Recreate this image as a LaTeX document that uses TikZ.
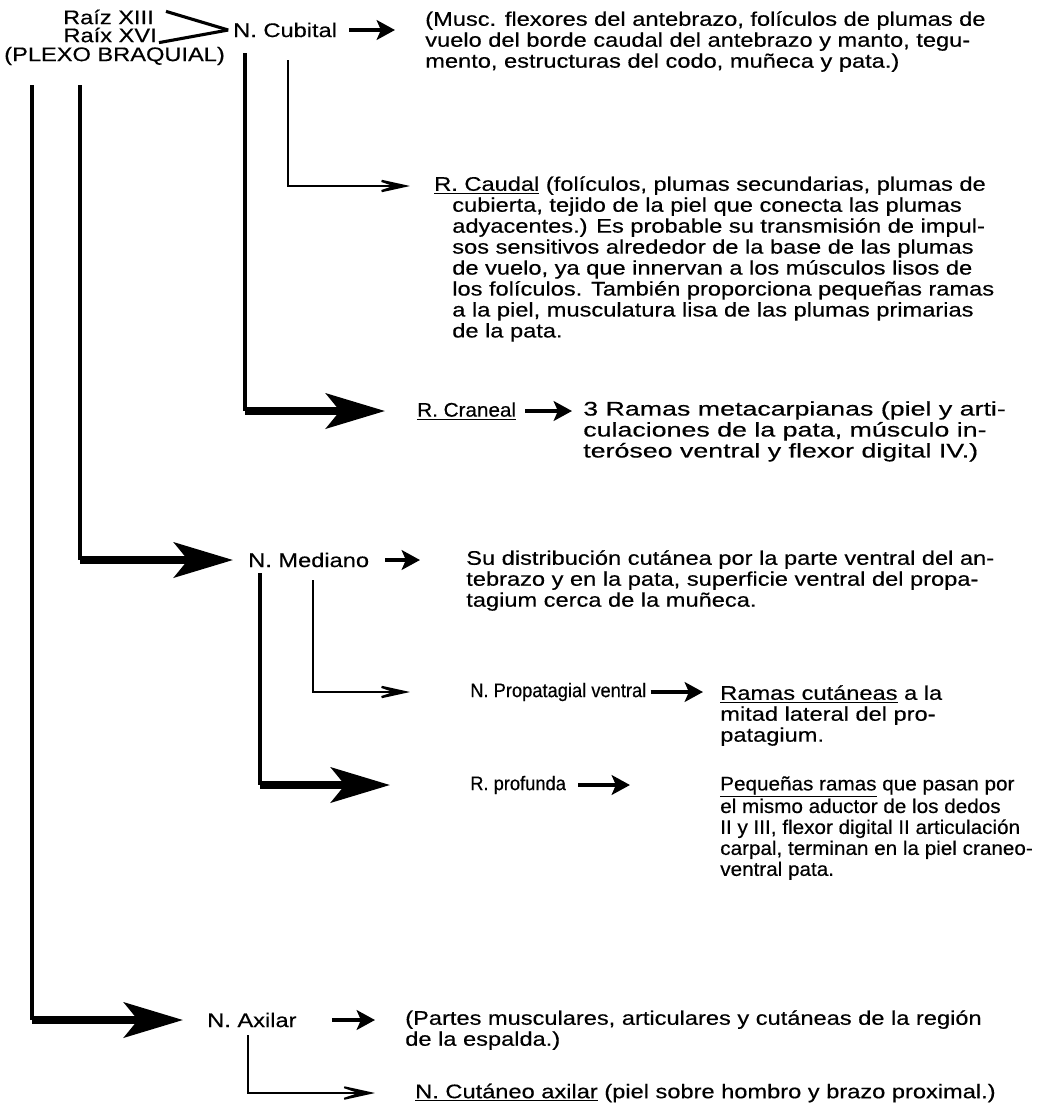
\documentclass[tikz,border=0pt]{standalone}
\usepackage{fontspec}
\setmainfont{Liberation Sans}[FakeStretch=1.2, FakeBold=0.4]
\newfontfamily\widesans{Liberation Sans}[FakeStretch=1.36, FakeBold=0.4]
\newfontfamily\slimsans{Liberation Sans}[FakeStretch=1.05, FakeBold=0.4]
\newfontfamily\narrowsans{Liberation Sans}[FakeStretch=0.93, FakeBold=0.4]
\usetikzlibrary{arrows.meta}

\begin{document}
\begin{tikzpicture}[
    x=0.025cm,
    y=-0.025cm,
    lbl/.style={inner sep=0pt, anchor=west, font=\fontsize{14pt}{14.9pt}\selectfont},
    para/.style={lbl, anchor=north west, align=left},
    wide/.style={font=\widesans\fontsize{14pt}{14.9pt}\selectfont},
    slim/.style={font=\slimsans\fontsize{14pt}{14.9pt}\selectfont},
    narrow/.style={font=\narrowsans\fontsize{14pt}{14.9pt}\selectfont},
    trunk/.style={line width=2.6pt},
    chev/.style={line width=2.2pt},
    bigarrow/.style={line width=5pt, -{Stealth[length=42pt,width=25pt,inset=10pt]}},
    smallarrow/.style={line width=3pt, -{Stealth[length=13pt,width=14pt,inset=3pt]}},
    thinarrow/.style={line width=1.6pt, -{Stealth[length=34pt,width=15pt,inset=22pt]}}
]
\useasboundingbox (0,0) rectangle (1049,1107);

\node[lbl, anchor=east] (raiz13) at (154,17) {Raíz XIII};
\node[lbl, anchor=east] (raiz16) at (157,35) {Raíx XVI};
\node[lbl] (plexo) at (4,56) {(PLEXO BRAQUIAL)};
\node[lbl] (cubital) at (233,30) {N. Cubital};

\draw[chev] ([xshift=0.3cm,yshift=-0.05cm]raiz13.north east) -- ([xshift=-0.12cm]cubital.west);
\draw[chev] ([xshift=0.05cm]raiz16.south east) -- ([xshift=-0.12cm]cubital.west);

% Cubital.
\node[para] (cubtxt) at (425,11) {(Musc. flexores del antebrazo, folículos de plumas de\\
    vuelo del borde caudal del antebrazo y manto, tegu-\\
    mento, estructuras del codo, muñeca y pata.)};
\draw[smallarrow, shorten <=0.3cm, shorten >=0.75cm] (cubital.east) -- (cubital.east -| cubtxt.west);

\coordinate (cubL) at (245,53);
\coordinate (cubM) at (288,60);

\node[para] (caudal) at (434,176) {\underline{R. Caudal} (folículos, plumas secundarias, plumas de\\
    \hspace*{0.45cm}cubierta, tejido de la piel que conecta las plumas\\
    \hspace*{0.45cm}adyacentes.) Es probable su transmisión de impul-\\
    \hspace*{0.45cm}sos sensitivos alrededor de la base de las plumas\\
    \hspace*{0.45cm}de vuelo, ya que innervan a los músculos lisos de\\
    \hspace*{0.45cm}los folículos. También proporciona pequeñas ramas\\
    \hspace*{0.45cm}a la piel, musculatura lisa de las plumas primarias\\
    \hspace*{0.45cm}de la pata.};
\draw[thinarrow, shorten >=0.6cm] (cubM) |- ([yshift=-0.25cm]caudal.north west);

\node[lbl, slim] (craneal) at (417,411) {\underline{R. Craneal}};
\node[para, wide] (metacarp) at (583,401) {3 Ramas metacarpianas (piel y arti-\\
    culaciones de la pata, músculo in-\\
    teróseo ventral y flexor digital IV.)};
\draw[trunk] (cubL) -- (cubL |- craneal);
\draw[bigarrow, shorten >=0.8cm] (cubL |- craneal) -- (craneal);
\draw[smallarrow, shorten <=0.225cm, shorten >=0.275cm] (craneal.east) -- (craneal.east -| metacarp.west);

% Mediano.
\coordinate (plexoL) at (32,85);
\coordinate (plexoM) at (80,85);

\node[lbl] (mediano) at (248,560) {N. Mediano};
\node[para] (medtxt) at (466,550) {Su distribución cutánea por la parte ventral del an-\\
    tebrazo y en la pata, superficie ventral del propa-\\
    tagium cerca de la muñeca.};
\draw[trunk] (plexoM) -- (plexoM |- mediano);
\draw[bigarrow, shorten >=0.375cm] (plexoM |- mediano) -- (mediano);
\draw[smallarrow, shorten <=0.4cm, shorten >=1.15cm] (mediano.east) -- (mediano.east -| medtxt.west);

\coordinate (medL) at (260,573);
\coordinate (medM) at (313,580);

\node[lbl, narrow] (propat) at (470,692) {N. Propatagial ventral};
\node[para] (cutramas) at (720,685) {\underline{Ramas cutáneas} a la\\
    mitad lateral del pro-\\
    patagium.};
\draw[thinarrow, shorten >=1.5cm] (medM) |- (propat);
\draw[smallarrow, shorten <=0.1cm, shorten >=0.425cm] (propat.east) -- (propat.east -| cutramas.west);

\node[lbl, narrow] (profunda) at (470,785) {R. profunda};
\node[para, slim] (pequenas) at (720,776) {\underline{Pequeñas ramas} que pasan por\\
    el mismo aductor de los dedos\\
    II y III, flexor digital II articulación\\
    carpal, terminan en la piel craneo-\\
    ventral pata.};
\draw[trunk] (medL) -- (medL |- profunda);
\draw[bigarrow, shorten >=2cm] (medL |- profunda) -- (profunda);
\draw[smallarrow, shorten <=0.3cm, shorten >=2.25cm] (profunda.east) -- (profunda.east -| pequenas.west);

% Axilar.
\node[lbl] (axilar) at (207,1020) {N. Axilar};
\node[para] (axtxt) at (405,1010) {(Partes musculares, articulares y cutáneas de la región\\
    de la espalda.)};
\draw[trunk] (plexoL) -- (plexoL |- axilar);
\draw[bigarrow, shorten >=0.6cm] (plexoL |- axilar) -- (axilar);
\draw[smallarrow, shorten <=0.875cm, shorten >=0.75cm] (axilar.east) -- (axilar.east -| axtxt.west);

\coordinate (axiL) at (248,1035);
\node[lbl] (cutaneo) at (415,1093) {\underline{N. Cutáneo axilar} (piel sobre hombro y brazo proximal.)};
\draw[thinarrow, line width=1.4pt, shorten >=1cm] (axiL) |- (cutaneo);

\end{tikzpicture}
\end{document}
